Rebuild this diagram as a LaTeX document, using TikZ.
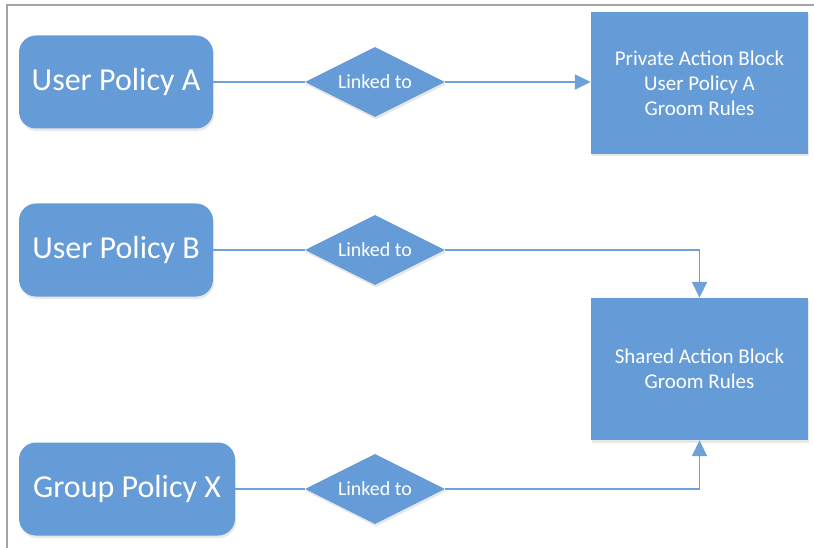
\documentclass[tikz,border=0pt]{standalone}
\usepackage{fontspec}
\setmainfont{Carlito}
\usetikzlibrary{arrows.meta,positioning,shapes.geometric,shadows}
\definecolor{cBlue}{HTML}{659BD6}
\definecolor{cLine}{HTML}{6EA1D8}
\definecolor{cFrame}{HTML}{A3A3A3}
\tikzset{
  >={Triangle[length=16pt,width=15pt]},
  shade/.style={drop shadow={opacity=0.18,shadow xshift=1pt,shadow yshift=-2.5pt}},
  policy/.style={rounded corners=17pt,fill=cBlue,text=white,minimum width=194pt,minimum height=93pt,
                 inner sep=2pt,font=\fontsize{32}{36}\selectfont,shade},
  link/.style={diamond,aspect=2,fill=cBlue,text=white,minimum width=140pt,minimum height=70pt,
               inner sep=0pt,font=\fontsize{20}{22}\selectfont,shade},
  block/.style={fill=cBlue,text=white,minimum width=217pt,minimum height=142pt,align=center,
                font=\fontsize{21}{25}\selectfont,shade},
  ar/.style={->,line width=1.8pt,draw=cLine},
  ln/.style={line width=1.8pt,draw=cLine},
}

\begin{document}
\begin{tikzpicture}[x=1pt,y=-1pt]
\useasboundingbox (0,0) rectangle (814,548);
\draw[cFrame,line width=2pt] (7,548) -- (7,5) -- (814,5);
% left column
\node[policy] (pa) at (116,82) {User Policy A};
\node[policy] (pb) at (116,250) {User Policy B};
\node[policy,minimum width=216pt] (px) at (127,489) {Group Policy X};
% links
\node[link] (la) at (375,82) {Linked to};
\node[link] (lb) at (375,250) {Linked to};
\node[link] (lx) at (375,489) {Linked to};
% action blocks
\node[block] (priv) at (699.5,83) {Private Action Block\\User Policy A\\Groom Rules};
\node[block] (shr) at (699.5,369) {Shared Action Block\\Groom Rules};
% connectors
\draw[ln] (pa) -- (la);
\draw[ar] (la.east) -- (la.east -| priv.west);
\draw[ln] (pb) -- (lb);
\draw[ar] (lb.east) -| (shr.north);
\draw[ln] (px) -- (lx);
\draw[ar] (lx.east) -| (shr.south);
\end{tikzpicture}
\end{document}
